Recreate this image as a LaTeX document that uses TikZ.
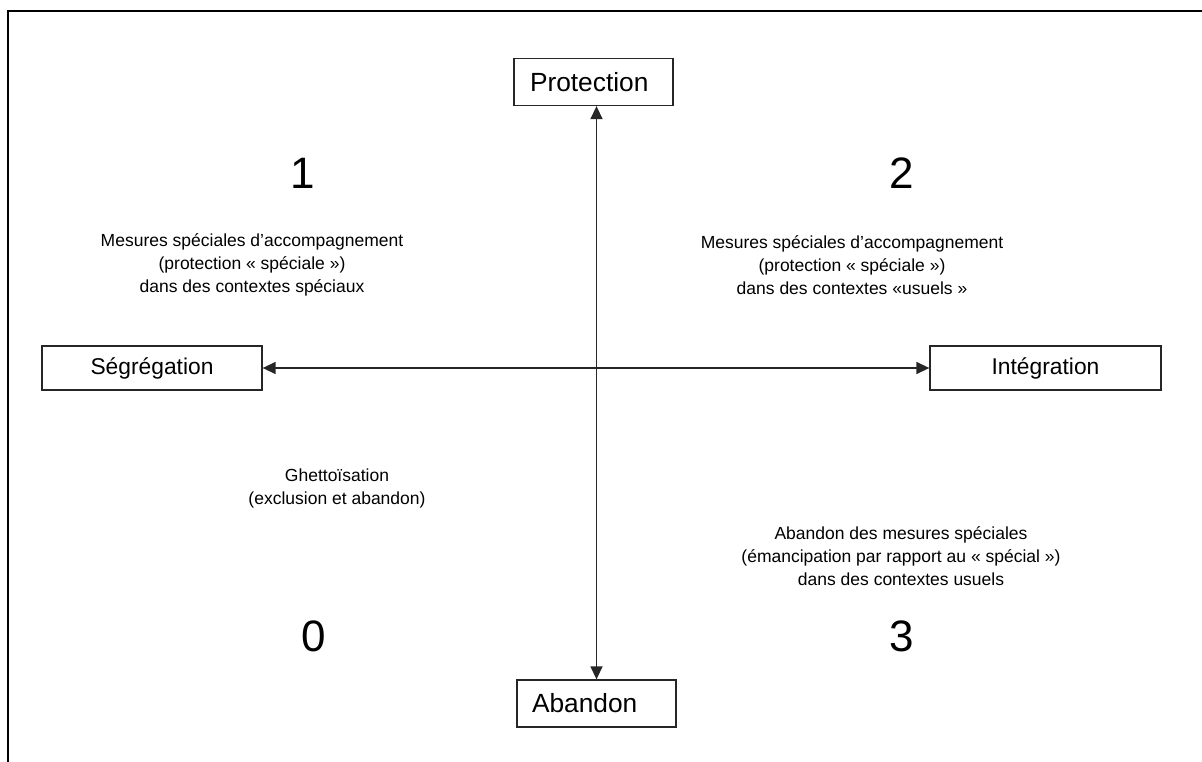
\documentclass[tikz,border=0pt]{standalone}
\usepackage{fontspec}
\setmainfont{Liberation Sans}
\usetikzlibrary{arrows.meta}
\begin{document}
\begin{tikzpicture}[x=1pt,y=-1pt,
  pole/.style={draw=black!85,line width=1.3pt,inner sep=0pt,minimum height=47pt},
  body/.style={align=center,font=\fontsize{17.5}{23}\selectfont},
  num/.style={font=\fontsize{44}{50}\selectfont},
  axis/.style={line width=1.4pt,draw=black!85,{Triangle[length=13pt,width=12pt]}-{Triangle[length=13pt,width=12pt]}}]
\clip (0,0) rectangle (1202,762);
\fill[white] (0,0) rectangle (1202,762);
\draw[line width=2.3pt] (8,11) rectangle (1230,790);
% pole boxes
\node[pole,minimum width=159pt,text width=127pt,align=left,font=\fontsize{26.3}{30}\selectfont] (prot) at (593.5,82) {Protection};
\node[pole,minimum width=159pt,text width=129pt,align=left,font=\fontsize{26.3}{30}\selectfont] (aband) at (596.5,703.5) {Abandon};
\node[pole,minimum width=220pt,minimum height=44pt,font=\fontsize{22.8}{27}\selectfont] (seg) at (152,368) {Ségrégation};
\node[pole,minimum width=231pt,minimum height=44pt,font=\fontsize{22.8}{27}\selectfont] (int) at (1045.5,368) {Intégration};
% axes
\draw[axis] (prot.south -| aband.north) -- (aband.north);
\draw[axis] (seg.east) -- (int.west);
% quadrant numbers
\node[num] (n1) at (303,173) {1};
\node[num] (n2) at (902,173) {2};
\node[num] (n0) at (314,636) {0};
\node[num] (n3) at (902,636) {3};
% quadrant texts
\node[body] (q1) at (252,265) {Mesures spéciales d’accompagnement\\(protection « spéciale »)\\dans des contextes spéciaux};
\node[body] (q2) at (852,265) {Mesures spéciales d’accompagnement\\(protection « spéciale »)\\dans des contextes «usuels »};
\node[body] (q0) at (337,488) {Ghettoïsation\\(exclusion et abandon)};
\node[body] (q3) at (901,556) {Abandon des mesures spéciales\\(émancipation par rapport au « spécial »)\\dans des contextes usuels};
\end{tikzpicture}
\end{document}
